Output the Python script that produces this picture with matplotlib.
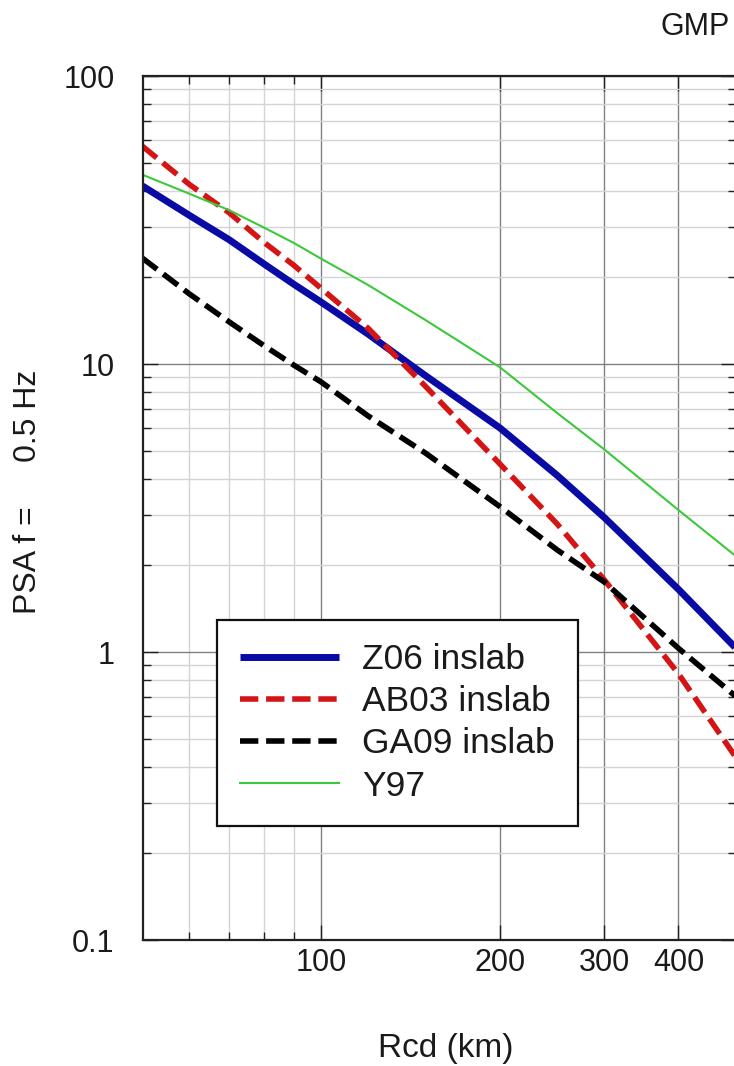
import matplotlib
matplotlib.use("Agg")
import matplotlib.pyplot as plt
from matplotlib.ticker import FixedLocator, FixedFormatter, NullFormatter

plt.rcParams['font.family'] = ['Liberation Sans', 'DejaVu Sans']

# Data
rcd_km = [50, 60, 70, 80, 90, 100, 120, 150, 200, 250, 300, 400, 500]
z06_inslab = [41.5, 32.8, 27.0, 22.3, 18.9, 16.4, 12.7, 9.1, 6.0, 4.1, 2.93, 1.65, 1.03]
ab03_inslab = [57.0, 42.0, 33.5, 26.5, 22.0, 18.3, 13.3, 8.35, 4.5, 2.78, 1.78, 0.84, 0.43]
ga09_inslab = [23.3, 17.5, 14.0, 11.6, 9.9, 8.66, 6.6, 4.9, 3.2, 2.26, 1.75, 1.03, 0.70]
y97 = [45.4, 39.0, 34.2, 29.8, 26.3, 23.2, 18.8, 14.2, 9.75, 6.75, 5.05, 3.11, 2.15]

series_labels = ["Z06 inslab", "AB03 inslab", "GA09 inslab", "Y97"]
x_tick_values = [100, 200, 300, 400]
x_tick_labels = ["100", "200", "300", "400"]
x_minor_values = [60, 70, 80, 90]
y_tick_values = [0.1, 1, 10, 100]
y_tick_labels = ["0.1", "1", "10", "100"]
y_minor_values = [m * d for d in (0.1, 1, 10) for m in range(2, 10)]

W, H = 734, 1066
fig = plt.figure(figsize=(W / 100, H / 100), dpi=100)
left_px, right_px, top_px, bottom_px = 142.5, 736, 76, 940
ax = fig.add_axes([left_px / W, 1 - bottom_px / H,
                   (right_px - left_px) / W, (bottom_px - top_px) / H])

ax.set_xscale('log')
ax.set_yscale('log')
ax.set_xlim(50, 500)
ax.set_ylim(0.1, 100)

txt = '#1a1a1a'
ax.plot(rcd_km, z06_inslab, color='#0a0aa5', lw=5.0, label=series_labels[0], solid_capstyle='butt')
ax.plot(rcd_km, ab03_inslab, color='#d41515', lw=4.0, linestyle=(0, (3.3, 1.4)), label=series_labels[1])
ax.plot(rcd_km, ga09_inslab, color='#000000', lw=4.0, linestyle=(0, (3.3, 1.4)), label=series_labels[2])
ax.plot(rcd_km, y97, color='#3cc83c', lw=1.5, label=series_labels[3])

ax.xaxis.set_major_locator(FixedLocator(x_tick_values))
ax.xaxis.set_major_formatter(FixedFormatter(x_tick_labels))
ax.xaxis.set_minor_locator(FixedLocator(x_minor_values))
ax.xaxis.set_minor_formatter(NullFormatter())
ax.yaxis.set_major_locator(FixedLocator(y_tick_values))
ax.yaxis.set_major_formatter(FixedFormatter(y_tick_labels))
ax.yaxis.set_minor_locator(FixedLocator(y_minor_values))
ax.yaxis.set_minor_formatter(NullFormatter())

ax.set_axisbelow(True)
ax.grid(True, which='major', color='#808080', lw=1.0)
ax.grid(True, which='minor', color='#d4d4d4', lw=1.0)

ax.tick_params(which='both', direction='in', top=True, right=True, colors='#222222', labelcolor=txt)
ax.tick_params(which='major', length=10.5, width=1.0, labelsize=22)
ax.tick_params(which='minor', length=5.5, width=1.0)
ax.tick_params(axis='y', which='major', pad=20)
ax.tick_params(axis='x', which='major', pad=6)

for sp in ax.spines.values():
    sp.set_linewidth(1.6)
    sp.set_color('#222222')

ax.set_xlabel("Rcd (km)", fontsize=24, color=txt, va='center')
ax.xaxis.set_label_coords((446 - left_px) / (right_px - left_px), (bottom_px - 1048) / (bottom_px - top_px))
ax.set_ylabel("PSA f =     0.5 Hz", fontsize=23, color=txt, va='center')
ax.yaxis.set_label_coords((28 - left_px) / (right_px - left_px), (bottom_px - 491.5) / (bottom_px - top_px))

fig.text(660 / W, 1 - 27 / H, "GMP", fontsize=22, color=txt, ha='left', va='center')

leg = ax.legend(loc='upper left', bbox_to_anchor=(217 / W, 1 - 620 / H),
                bbox_transform=fig.transFigure, borderaxespad=0,
                fontsize=25.5, frameon=True, fancybox=False, shadow=False,
                framealpha=1, edgecolor='#111111', handlelength=2.8,
                handletextpad=0.65, borderpad=0.65, labelspacing=0.26)
leg.get_frame().set_linewidth(1.6)
for t in leg.get_texts():
    t.set_color(txt)

fig.savefig("out.png", dpi=100)
